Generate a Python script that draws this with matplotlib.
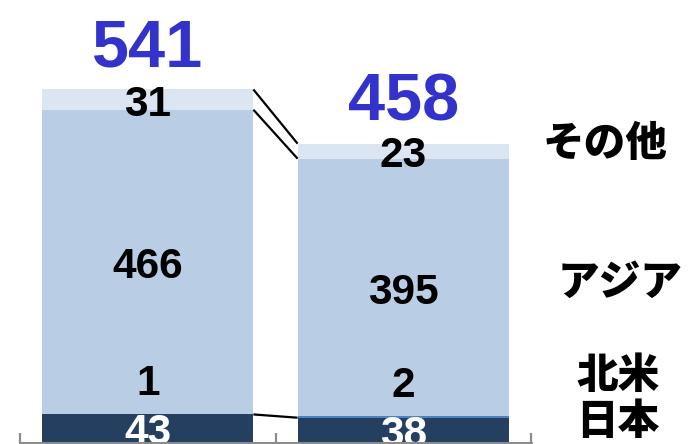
import matplotlib
matplotlib.use("Agg")
import matplotlib.pyplot as plt
import numpy as np

# ---- data ----
bars = ["前期", "当期"]
segments = ["日本", "北米", "アジア", "その他"]
japan = [43, 38]
north_america = [1, 2]
asia = [466, 395]
other = [31, 23]
totals = [541, 458]

colors = ["#243F60", "#4F81BD", "#B9CDE5", "#DCE6F2"]
label_colors = ["white", "black", "black", "black"]

W, H = 690, 444
fig = plt.figure(figsize=(W / 100, H / 100), dpi=100)
ax_left = 20 / W
ax_w = 511 / W
ax_bottom = 1.5 / H
ax = fig.add_axes([ax_left, ax_bottom, ax_w, 1 - ax_bottom])

px_per_unit = 0.6525
ax.set_xlim(-0.5, 1.5)
ax.set_ylim(0, (H - 1.5) / px_per_unit)

x = np.arange(len(bars))
width = 0.827
series = [japan, north_america, asia, other]
bottom = np.zeros(len(bars))
bounds = []
for vals, col in zip(series, colors):
    vals = np.array(vals, dtype=float)
    ax.bar(x, vals, width, bottom=bottom, color=col, edgecolor="none", zorder=2)
    bounds.append((bottom.copy(), bottom + vals))
    bottom = bottom + vals

num_font = dict(family="Liberation Sans", fontweight="bold")

# segment value labels
for si, (vals, lc) in enumerate(zip(series, label_colors)):
    b0, b1 = bounds[si]
    for i in range(len(bars)):
        if si == 1:
            ypos = b1[i]
            off = 30
        else:
            ypos = (b0[i] + b1[i]) / 2
            off = -5
        ax.annotate(str(vals[i]), (x[i], ypos), xytext=(0, off),
                    textcoords="offset pixels", ha="center", va="center",
                    fontsize=30.5, color=lc, zorder=5, annotation_clip=False,
                    **num_font)

# totals
for i in range(len(bars)):
    ax.annotate(str(totals[i]), (x[i], totals[i]), xytext=(0, 23),
                textcoords="offset pixels", ha="center", va="baseline",
                fontsize=48, color="#3333CC", zorder=5, annotation_clip=False,
                **num_font)

# connector lines
cum_japan = np.array(japan, dtype=float)
cum_asia = np.array(japan) + np.array(north_america) + np.array(asia)
cum_total = np.array(totals, dtype=float)
for level in [cum_japan, cum_asia, cum_total]:
    ax.plot([x[0] + width / 2, x[1] - width / 2], [level[0], level[1]],
            color="black", lw=1.6, zorder=4, solid_capstyle="butt")

# axes styling
for s in ["top", "left", "right"]:
    ax.spines[s].set_visible(False)
ax.spines["bottom"].set_color("#8C8C8C")
ax.spines["bottom"].set_linewidth(2.2)
ax.spines["bottom"].set_zorder(6)
ax.set_xticks([-0.5, 0.5, 1.5])
ax.set_xticklabels([])
ax.tick_params(axis="x", direction="in", length=7.5, width=1.6, color="#8C8C8C")
ax.set_yticks([])
ax.patch.set_alpha(0)

# right-side segment names
names_pos = {"その他": (605, 144), "アジア": (620, 283), "北米": (618, 376), "日本": (618, 422)}
for name in segments:
    px, py = names_pos[name]
    fig.text(px / W, 1 - py / H, name, ha="center", va="center",
             fontsize=30, fontweight=900,
             family=["Noto Sans CJK JP", "DejaVu Sans"], color="black")

fig.savefig("out.png", dpi=100)
